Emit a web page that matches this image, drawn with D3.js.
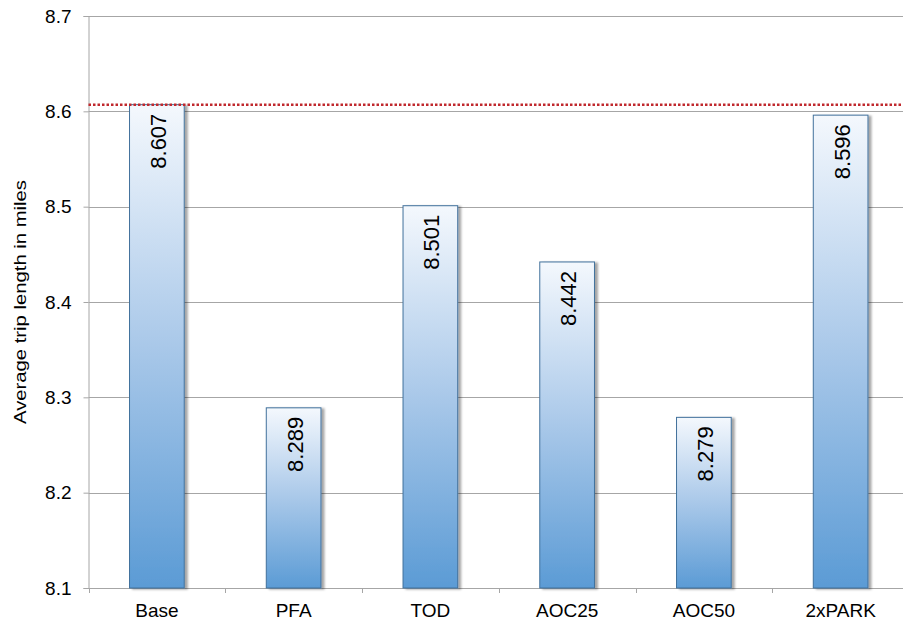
<!DOCTYPE html>
<html><head><meta charset="utf-8">
<script src="https://cdn.jsdelivr.net/npm/d3@7"></script>
<style>body{margin:0;background:#fff;}svg{display:block;font-family:"Liberation Sans",Arial,sans-serif;}</style>
</head><body>
<svg id="c" width="903" height="622"></svg>
<script>
const categories = ["Base","PFA","TOD","AOC25","AOC50","2xPARK"];
const values = [8.607,8.289,8.501,8.442,8.279,8.596];
const referenceValue = [8.607];
const yTicks = [8.1,8.2,8.3,8.4,8.5,8.6,8.7];
const yTitle = "Average trip length in miles";

const svg = d3.select("#c");
const pLeft = 88.5, pRight = 909, pTop = 16, pBottom = 588;
const x = d3.scaleBand().domain(categories).range([pLeft, pRight]).paddingInner(0.6).paddingOuter(0.3);
const y = d3.scaleLinear().domain([8.1, 8.7]).range([pBottom, pTop]);

const defs = svg.append("defs");
const grad = defs.append("linearGradient").attr("id","g").attr("x1",0).attr("y1",0).attr("x2",0).attr("y2",1);
grad.append("stop").attr("offset","0%").attr("stop-color","#f4f8fd");
grad.append("stop").attr("offset","50%").attr("stop-color","#a9c8e9");
grad.append("stop").attr("offset","100%").attr("stop-color","#5b9bd5");
const f = defs.append("filter").attr("id","sh").attr("x","-20%").attr("y","-5%").attr("width","150%").attr("height","115%");
f.append("feDropShadow").attr("dx",3).attr("dy",1).attr("stdDeviation",1.2).attr("flood-color","#000").attr("flood-opacity",0.35);

// gridlines
svg.append("g").selectAll("line").data(yTicks.slice(1)).join("line")
  .attr("x1", pLeft).attr("x2", 903).attr("y1", d=>Math.round(y(d))+0.5).attr("y2", d=>Math.round(y(d))+0.5)
  .attr("stroke","#a6a6a6").attr("stroke-width",1);

// y axis
const ya = svg.append("g").attr("transform",`translate(${pLeft},0)`)
  .call(d3.axisLeft(y).tickValues(yTicks).tickFormat(d3.format(".1f")).tickSize(5).tickPadding(12));
ya.select(".domain").attr("stroke","#a6a6a6");
ya.selectAll(".tick line").attr("stroke","#a6a6a6");
ya.selectAll(".tick text").attr("font-size",19).attr("fill","#000").attr("font-family","Liberation Sans, Arial, sans-serif");

// x axis
const xa = svg.append("g").attr("transform",`translate(0,${pBottom})`)
  .call(d3.axisBottom(x).tickSize(0).tickPadding(16));
xa.select(".domain").remove();
xa.selectAll(".tick text").attr("font-size",19).attr("fill","#000").attr("font-family","Liberation Sans, Arial, sans-serif");
svg.append("line").attr("x1",pLeft).attr("x2",903).attr("y1",pBottom+0.5).attr("y2",pBottom+0.5).attr("stroke","#a6a6a6");
const step = x.step();
svg.append("g").selectAll("line").data(d3.range(categories.length+1)).join("line")
  .attr("x1", i=>Math.round(pLeft + i*step)+0.5).attr("x2", i=>Math.round(pLeft + i*step)+0.5)
  .attr("y1", pBottom).attr("y2", pBottom+5).attr("stroke","#a6a6a6");

// bars
svg.append("g").selectAll("rect").data(values).join("rect")
  .attr("x", (d,i)=>x(categories[i])).attr("width", x.bandwidth())
  .attr("y", d=>y(d)).attr("height", d=>pBottom - y(d))
  .attr("fill","url(#g)").attr("stroke","#41719c").attr("stroke-width",1)
  .attr("filter","url(#sh)");

// labels
svg.append("g").selectAll("text").data(values).join("text")
  .attr("transform",(d,i)=>`translate(${x(categories[i])+x.bandwidth()/2+9},${y(d)+9}) rotate(-90)`)
  .attr("text-anchor","end").attr("font-size",22).attr("fill","#000")
  .text(d=>d.toFixed(3));

// reference line
svg.append("line").attr("x1",pLeft).attr("x2",903).attr("y1",y(referenceValue[0])).attr("y2",y(referenceValue[0]))
  .attr("stroke","#c0282d").attr("stroke-width",2.5).attr("stroke-dasharray","2.5,2");

// y title
svg.append("text").attr("transform",`translate(26,${(pTop+pBottom)/2}) rotate(-90)`)
  .attr("text-anchor","middle").attr("font-size",16)
  .attr("textLength",244).attr("lengthAdjust","spacingAndGlyphs")
  .attr("fill","#000").text(yTitle);
</script>
</body></html>
